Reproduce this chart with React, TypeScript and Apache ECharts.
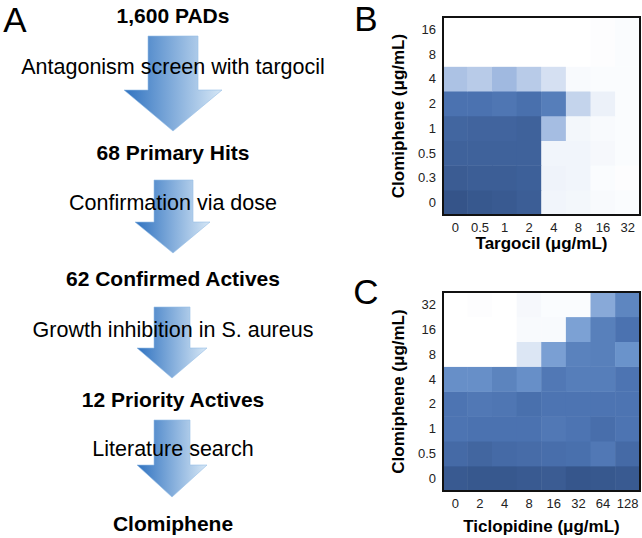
import React, { useEffect, useRef } from "react";
import * as echarts from "echarts";

const targocilLabels = ["0", "0.5", "1", "2", "4", "8", "16", "32"];
const clomipheneLabelsB = ["0", "0.3", "0.5", "1", "2", "4", "8", "16"];
// rows bottom (0) to top (16), columns targocil 0..32; values = relative growth signal
const valuesB: number[][] = [
  [95, 93, 92, 90, 6, 5, 3, 2],
  [91, 90, 90, 89, 7, 6, 2, 1],
  [88, 88, 88, 88, 6, 6, 4, 2],
  [86, 87, 87, 88, 38, 5, 3, 2],
  [80, 80, 78, 81, 74, 25, 8, 2],
  [35, 30, 40, 30, 18, 3, 2, 2],
  [0, 0, 0, 0, 0, 0, 1, 2],
  [0, 0, 0, 0, 0, 0, 1, 2],
];

const ticlopidineLabels = ["0", "2", "4", "8", "16", "32", "64", "128"];
const clomipheneLabelsC = ["0", "0.5", "1", "2", "4", "8", "16", "32"];
const valuesC: number[][] = [
  [92, 93, 93, 92, 91, 94, 93, 92],
  [84, 86, 84, 83, 82, 81, 77, 84],
  [79, 80, 80, 80, 77, 79, 82, 79],
  [79, 77, 78, 81, 79, 79, 79, 79],
  [65, 65, 71, 65, 77, 74, 74, 79],
  [0, 0, 0, 15, 56, 72, 73, 63],
  [0, 0, 0, 3, 3, 55, 73, 80],
  [0, 1, 0, 4, 2, 2, 50, 70],
];

const flowSteps = [
  "1,600 PADs",
  "68 Primary Hits",
  "62 Confirmed Actives",
  "12 Priority Actives",
  "Clomiphene",
];
const flowActions = [
  "Antagonism screen with targocil",
  "Confirmation via dose",
  "Growth inhibition in S. aureus",
  "Literature search",
];

const FONT = "'Liberation Sans', Arial, Helvetica, sans-serif";

function toCells(rows: number[][]) {
  const out: number[][] = [];
  rows.forEach((row, y) => row.forEach((v, x) => out.push([x, y, v])));
  return out;
}

export default function App() {
  const ref = useRef<HTMLDivElement>(null);
  useEffect(() => {
    if (!ref.current) return;
    const chart = echarts.init(ref.current, undefined, { renderer: "svg" });

    const gB = { left: 443, top: 17, width: 197, height: 198 };
    const gC = { left: 443, top: 292, width: 197, height: 199 };

    const stepY = [15, 152, 278, 399, 523];
    const actionY = [67, 203, 330, 449];
    const arrows = [
      { sl: 148, sr: 198, top: 36, head: 90, hl: 124, hr: 222, tx: 173, ty: 131 },
      { sl: 154, sr: 193, top: 180, head: 222, hl: 135, hr: 210, tx: 173, ty: 253 },
      { sl: 154, sr: 190, top: 307, head: 348, hl: 137, hr: 207, tx: 172, ty: 378 },
      { sl: 154, sr: 190, top: 420, head: 465, hl: 137, hr: 207, tx: 172, ty: 497 },
    ];

    const graphics: any[] = [];
    arrows.forEach((a) => {
      graphics.push({
        type: "polygon",
        z: 1,
        shape: {
          points: [
            [a.sl, a.top],
            [a.sr, a.top],
            [a.sr, a.head],
            [a.hr, a.head],
            [a.tx, a.ty],
            [a.hl, a.head],
            [a.sl, a.head],
          ],
        },
        style: {
          fill: new echarts.graphic.LinearGradient(0, 0, 1, 0, [
            { offset: 0, color: "#2f72c0" },
            { offset: 1, color: "#d6e7f6" },
          ]),
          stroke: "rgba(150,190,230,0.6)",
          lineWidth: 1,
        },
      });
    });
    flowSteps.forEach((t, i) => {
      graphics.push({
        type: "text",
        z: 10,
        x: 173,
        y: stepY[i],
        style: {
          text: t,
          fill: "#000",
          font: `bold 21px ${FONT}`,
          align: "center",
          verticalAlign: "middle",
        },
      });
    });
    flowActions.forEach((t, i) => {
      graphics.push({
        type: "text",
        z: 10,
        x: 173,
        y: actionY[i],
        style: {
          text: t,
          fill: "#000",
          font: `21.5px ${FONT}`,
          align: "center",
          verticalAlign: "middle",
        },
      });
    });
    [
      ["A", 15, 19],
      ["B", 366, 18],
      ["C", 366, 291],
    ].forEach(([t, x, y]) => {
      graphics.push({
        type: "text",
        z: 10,
        x,
        y,
        style: {
          text: t,
          fill: "#000",
          font: `35px ${FONT}`,
          align: "center",
          verticalAlign: "middle",
        },
      });
    });
    [gB, gC].forEach((g) => {
      graphics.push({
        type: "rect",
        z: 100,
        shape: { x: g.left, y: g.top, width: g.width, height: g.height },
        style: { fill: "none", stroke: "#111", lineWidth: 2 },
      });
    });

    const axisCommon = {
      type: "category" as const,
      axisLine: { show: false },
      axisTick: { show: false },
      splitLine: { show: false },
      nameLocation: "middle" as const,
    };
    const labelStyle = { fontFamily: FONT, fontSize: 13, color: "#222", interval: 0 };
    const nameStyle = { fontFamily: FONT, fontWeight: "bold", fontSize: 17, color: "#000" };

    chart.setOption({
      animation: false,
      grid: [
        { ...gB, containLabel: false },
        { ...gC, containLabel: false },
      ],
      xAxis: [
        {
          ...axisCommon,
          gridIndex: 0,
          data: targocilLabels,
          name: "Targocil (μg/mL)",
          nameGap: 17,
          nameTextStyle: nameStyle,
          axisLabel: { ...labelStyle, margin: 6 },
        },
        {
          ...axisCommon,
          gridIndex: 1,
          data: ticlopidineLabels,
          name: "Ticlopidine (μg/mL)",
          nameGap: 27,
          nameTextStyle: nameStyle,
          axisLabel: { ...labelStyle, margin: 6 },
        },
      ],
      yAxis: [
        {
          ...axisCommon,
          gridIndex: 0,
          data: clomipheneLabelsB,
          name: "Clomiphene (μg/mL)",
          nameGap: 36,
          nameTextStyle: nameStyle,
          axisLabel: { ...labelStyle, margin: 7 },
        },
        {
          ...axisCommon,
          gridIndex: 1,
          data: clomipheneLabelsC,
          name: "Clomiphene (μg/mL)",
          nameGap: 36,
          nameTextStyle: nameStyle,
          axisLabel: { ...labelStyle, margin: 7 },
        },
      ],
      visualMap: {
        type: "continuous",
        show: false,
        min: 0,
        max: 100,
        seriesIndex: [0, 1],
        inRange: {
          color: ["#ffffff", "#d0ddf0", "#a0b9e0", "#7099d0", "#4b72b0", "#2d4a7c"],
        },
      },
      series: [
        {
          type: "heatmap",
          xAxisIndex: 0,
          yAxisIndex: 0,
          data: toCells(valuesB),
          itemStyle: { borderWidth: 0 },
        },
        {
          type: "heatmap",
          xAxisIndex: 1,
          yAxisIndex: 1,
          data: toCells(valuesC),
          itemStyle: { borderWidth: 0 },
        },
      ],
      graphic: graphics,
    });
    return () => chart.dispose();
  }, []);
  return (
    <div
      ref={ref}
      style={{ position: "absolute", left: 0, top: 0, width: 642, height: 538, background: "#fff" }}
    />
  );
}
